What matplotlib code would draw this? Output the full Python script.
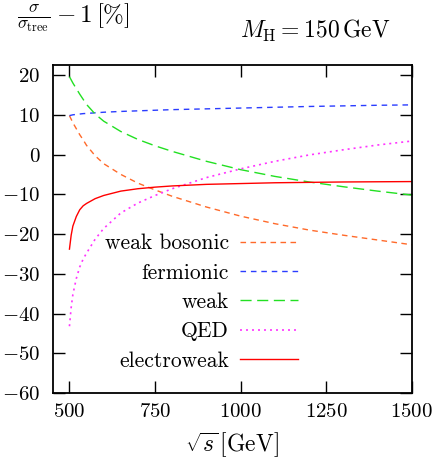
import matplotlib
matplotlib.use('Agg')
import matplotlib.pyplot as plt

plt.rcParams['font.family'] = 'cmr10'
plt.rcParams['mathtext.fontset'] = 'cm'
plt.rcParams['axes.formatter.use_mathtext'] = True
plt.rcParams['font.size'] = 15

# sqrt(s) in GeV
sqrt_s = [500, 505, 510, 520, 530, 540, 550, 575, 600, 650, 700, 750, 800,
          900, 1000, 1100, 1200, 1300, 1400, 1500]

# relative corrections in %
bosonic = [9.8, 8.9, 8.0, 6.5, 5.0, 3.7, 2.3, -0.3, -2.3, -5.0, -7.2, -8.9, -10.5,
           -13.2, -15.5, -17.4, -19.0, -20.3, -21.5, -22.7]
fermionic = [9.8, 9.9, 10.0, 10.1, 10.2, 10.3, 10.35, 10.5, 10.65, 10.85, 11.0, 11.15, 11.3,
             11.5, 11.7, 11.9, 12.1, 12.25, 12.4, 12.5]
weak = [19.6, 18.8, 18.0, 16.6, 15.2, 13.9, 12.6, 10.2, 8.4, 5.8, 3.8, 2.2, 0.8,
        -1.7, -3.8, -5.5, -6.9, -8.1, -9.2, -10.2]
qed = [-43.2, -38.5, -35.2, -31.2, -28.3, -26.3, -24.8, -21.3, -18.6, -14.7, -12.2, -10.3, -8.6,
       -5.8, -3.6, -1.7, -0.1, 1.2, 2.4, 3.4]
electroweak = [-23.8, -20.3, -18.0, -15.6, -13.9, -12.9, -12.3, -11.1, -10.3, -9.2, -8.6, -8.2, -7.9,
               -7.5, -7.3, -7.1, -7.0, -6.9, -6.85, -6.8]

fig = plt.figure(figsize=(4.36, 4.62), dpi=100)
ax = fig.add_axes([0.1216, 0.1494, 0.823, 0.7096])

ax.plot(sqrt_s, bosonic, color='#ff6a2a', lw=1, dashes=(4, 3.2), label='weak bosonic')
ax.plot(sqrt_s, fermionic, color='#2a3cff', lw=1, dashes=(4, 3.5), label='fermionic')
ax.plot(sqrt_s, weak, color='#22e022', lw=1, dashes=(8, 4), label='weak')
ax.plot(sqrt_s, qed, color='#ff33ff', lw=1.2, dashes=(1.2, 2.4), label='QED')
ax.plot(sqrt_s, electroweak, color='#ff0000', lw=1, label='electroweak')

ax.set_xlim(452, 1500)
ax.set_ylim(-60, 22.5)
ax.set_xticks([500, 750, 1000, 1250, 1500])
ax.set_yticks(range(-60, 21, 10))
ax.tick_params(direction='in', length=8.5, width=1, top=True, right=True, labelsize=15)
ax.tick_params(axis='y', pad=9)
ax.tick_params(axis='x', pad=7)
for sp in ax.spines.values():
    sp.set_linewidth(1.3)

ax.legend(loc='upper right', bbox_to_anchor=(0.682, 0.486), frameon=False, markerfirst=False,
          handlelength=2.7, labelspacing=0.46, borderpad=0, borderaxespad=0, handletextpad=0.5,
          fontsize=15.5)

fig.text(0.04, 0.962, r'$\frac{\sigma}{\sigma_{\rm tree}} - 1\,[\%]$', fontsize=18, va='center')
fig.text(0.55, 0.932, r'$M_{\rm H} = 150\,{\rm GeV}$', fontsize=17, va='center')
fig.text(0.532, 0.035, r'$\sqrt{s}\,[{\rm GeV}]$', fontsize=17, ha='center', va='center')

fig.savefig('out.png', dpi=100)
